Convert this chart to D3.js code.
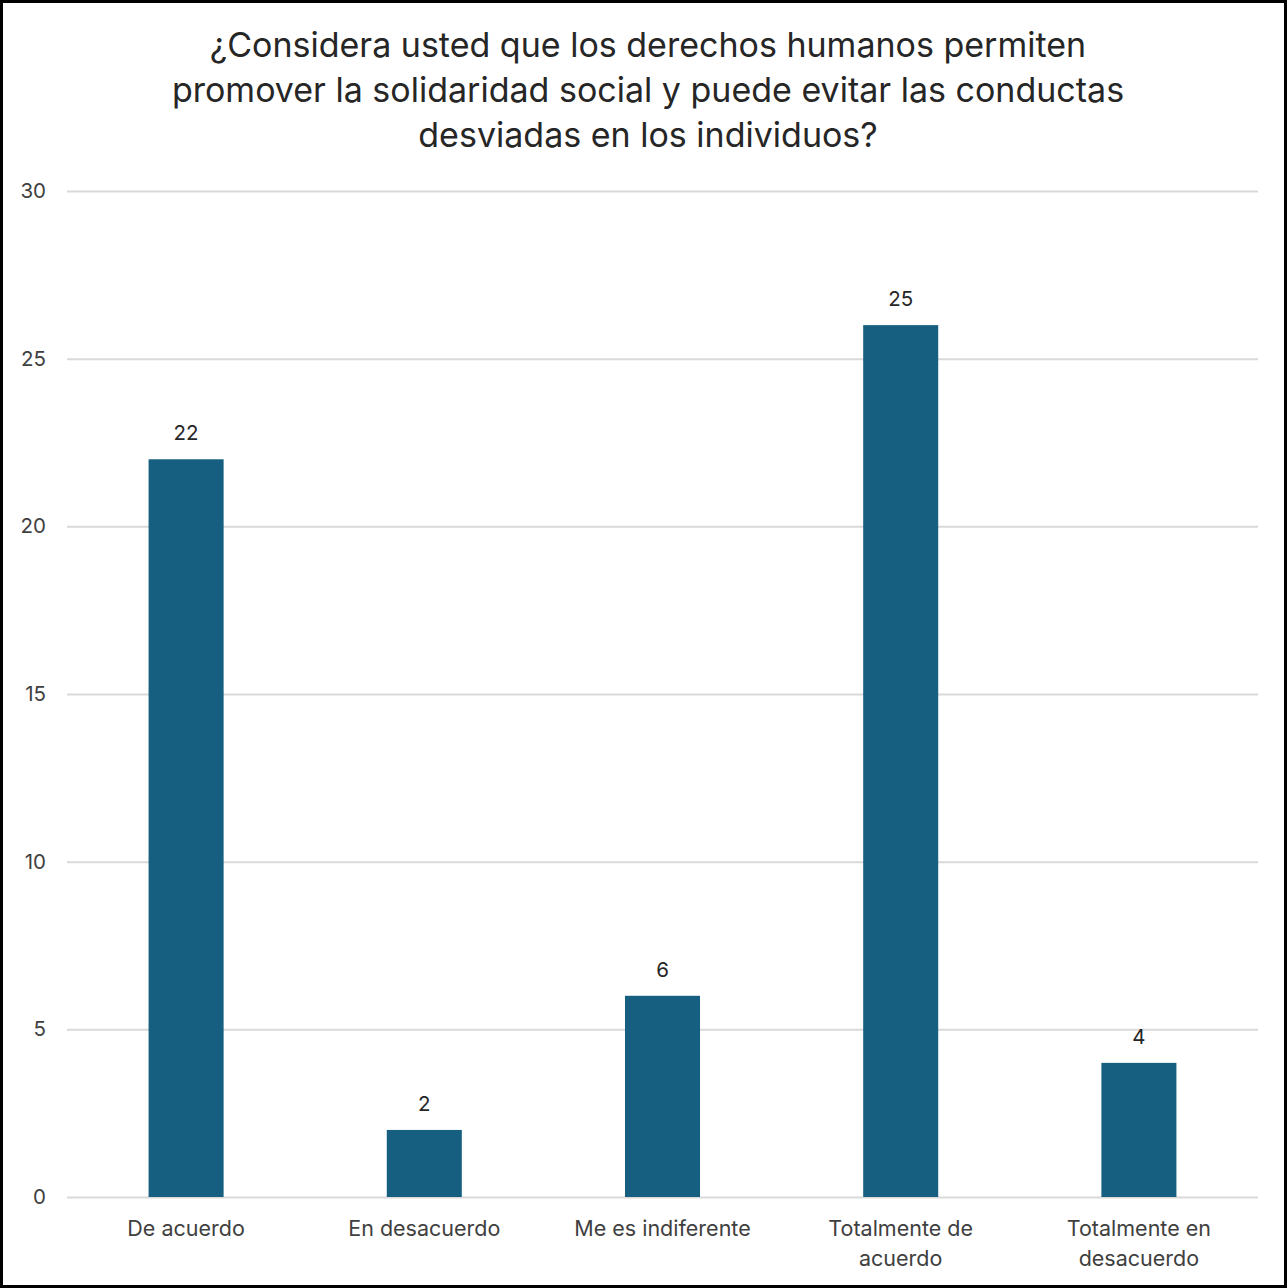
<!DOCTYPE html>
<html><head><meta charset="utf-8">
<script src="https://cdn.jsdelivr.net/npm/d3@7/dist/d3.min.js"></script>
<style>html,body{margin:0;padding:0;background:#fff;}</style>
</head><body>
<svg id="chart" width="1287" height="1288"></svg>
<script>
const titleLines = ["¿Considera usted que los derechos humanos permiten","promover la solidaridad social y puede evitar las conductas","desviadas en los individuos?"];
const categories = [["De acuerdo"],["En desacuerdo"],["Me es indiferente"],["Totalmente de","acuerdo"],["Totalmente en","desacuerdo"]];
const values = [22, 2, 6, 26, 4];
const dataLabels = ["22", "2", "6", "25", "4"];
const yTicks = [0, 5, 10, 15, 20, 25, 30];

(function(){
const svg = d3.select("#chart");
const font = "Inter, 'Noto Sans', sans-serif";
svg.append("rect").attr("x",1.5).attr("y",1.5).attr("width",1284).attr("height",1285)
  .attr("fill","#fff").attr("stroke","#000").attr("stroke-width",3);

const pl = 67, pr = 1258, pt = 191, pb = 1197;
const x = d3.scaleBand().domain(d3.range(categories.length)).range([pl, pr]).paddingInner(0.685).paddingOuter(0.3425);
const y = d3.scaleLinear().domain([0, 30]).range([pb, pt]);

const g = svg.append("g");
g.append("g").attr("transform",`translate(${pl},0)`)
  .call(d3.axisLeft(y).tickValues(yTicks).tickSize(-(pr-pl)).tickPadding(21))
  .call(a => a.select(".domain").remove())
  .call(a => a.selectAll(".tick line").attr("stroke","#d9d9d9").attr("stroke-width",2))
  .call(a => a.selectAll(".tick text").attr("fill","#404040").style("font-family",font).style("font-size","20.5px"));

g.selectAll("rect.bar").data(values).join("rect").attr("class","bar")
  .attr("x",(d,i)=>x(i)).attr("width",x.bandwidth())
  .attr("y",d=>y(d)).attr("height",d=>y(0)-y(d)).attr("fill","#165f80");

g.selectAll("text.dl").data(dataLabels).join("text").attr("class","dl")
  .attr("x",(d,i)=>x(i)+x.bandwidth()/2).attr("y",(d,i)=>y(values[i])-19)
  .attr("text-anchor","middle").attr("fill","#262626")
  .style("font-family",font).style("font-size","20.5px").text(d=>d);

const cat = g.selectAll("text.cat").data(categories).join("text").attr("class","cat")
  .attr("x",(d,i)=>x(i)+x.bandwidth()/2).attr("y",1236)
  .attr("text-anchor","middle").attr("fill","#404040")
  .style("font-family",font).style("font-size","21.5px");
cat.selectAll("tspan").data(d=>d).join("tspan")
  .attr("x",function(){return this.parentNode.getAttribute("x");})
  .attr("dy",(d,i)=>i===0?0:30).text(d=>d);

svg.append("text").attr("x",648).attr("y",57).attr("text-anchor","middle")
  .attr("fill","#262626").style("font-family",font).style("font-size","34px")
  .selectAll("tspan").data(titleLines).join("tspan").attr("x",648).attr("dy",(d,i)=>i===0?0:45).text(d=>d);
})();
</script>
</body></html>
